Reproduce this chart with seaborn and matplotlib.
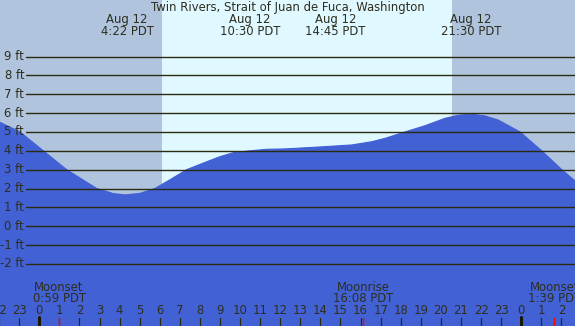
import matplotlib
matplotlib.use("Agg")
import matplotlib.pyplot as plt
import seaborn as sns
import pandas as pd

# ---- data ----
tide_hours = [-1.96, -0.96, 0.20, 1.36, 2.86, 3.69, 4.27, 5.01, 5.76, 6.55,
              7.34, 8.34, 9.0, 9.66, 10.5, 11.32, 12.24, 13.9, 15.56, 16.55,
              17.22, 18.21, 19.21, 20.2, 20.9, 21.53, 22.2, 22.86, 23.94,
              25.02, 26.02, 26.68]
tide_ft = [5.51, 5.00, 4.00, 3.00, 2.00, 1.73, 1.66, 1.74, 2.00, 2.49,
           3.00, 3.42, 3.69, 3.90, 4.00, 4.08, 4.10, 4.20, 4.31, 4.48,
           4.66, 5.00, 5.33, 5.72, 5.89, 5.94, 5.85, 5.63, 5.00,
           4.00, 3.00, 2.40]

event_times = [4 + 22 / 60, 10.5, 14.75, 21.5]
event_dates = ["Aug 12", "Aug 12", "Aug 12", "Aug 12"]
event_labels = ["4:22 PDT", "10:30 PDT", "14:45 PDT", "21:30 PDT"]

moon_times = [59 / 60, 16 + 8 / 60, 24 + 1 + 39 / 60]
moon_names = ["Moonset", "Moonrise", "Moonset"]
moon_labels = ["0:59 PDT", "16:08 PDT", "1:39 PDT"]

sunrise = 6.13
sunset = 20.57

ft_levels = [-2, -1, 0, 1, 2, 3, 4, 5, 6, 7, 8, 9]
hour_ticks = list(range(-2, 27))
hour_labels = [str(h % 24) for h in hour_ticks]

title = "Twin Rivers, Strait of Juan de Fuca, Washington"

# ---- style ----
NIGHT = "#B0C4DE"
DAY = "#E0F8FF"
WATER = "#4161D5"
LINE = "#2b2b10"
TEXT = "#2e2e1e"

sns.set_theme(style="white")
plt.rcParams["font.family"] = ["DejaVu Sans"]
FS = 8.4

W, H = 575, 326
fig = plt.figure(figsize=(W / 100, H / 100), dpi=100)
fig.patch.set_facecolor(NIGHT)
ax = fig.add_axes([0, 0, 1, 1])
ax.set_facecolor(NIGHT)

px_per_h = 20.08
h0_px = 39.3
x_lo = (0 - h0_px) / px_per_h
x_hi = (W - h0_px) / px_per_h
px_per_ft = 18.85
y0_px = 226.2
y_hi = y0_px / px_per_ft
y_lo = -(H - y0_px) / px_per_ft

# day span
ax.axvspan(sunrise, sunset, color=DAY, zorder=0, lw=0)

# water
df = pd.DataFrame({"hour": tide_hours, "ft": tide_ft})
ax.fill_between(df["hour"], df["ft"], y_lo, color=WATER, lw=0, zorder=1)
sns.lineplot(data=df, x="hour", y="ft", ax=ax, color=WATER, lw=0.8, zorder=1.5)
ax.axis("off")
ax.set_xlim(x_lo, x_hi)
ax.set_ylim(y_lo, y_hi)

# grid lines + labels
for lv in ft_levels:
    ax.axhline(lv, xmin=26 / W, xmax=1, color=LINE, lw=1.0, zorder=2)
    ax.text(24 / W, lv, f"{lv} ft", transform=ax.get_yaxis_transform(),
            ha="right", va="center", fontsize=FS, color=TEXT, zorder=3)

xt = ax.get_xaxis_transform()
ax.text(0.5, 1 - 7.5 / H, title, transform=ax.transAxes, ha="center",
        va="center", fontsize=FS, color=TEXT)
for t, d, l in zip(event_times, event_dates, event_labels):
    ax.text(t, 1 - 19.5 / H, d, transform=xt, ha="center", va="center",
            fontsize=FS, color=TEXT)
    ax.text(t, 1 - 31.5 / H, l, transform=xt, ha="center", va="center",
            fontsize=FS, color=TEXT)

for t, n, l in zip(moon_times, moon_names, moon_labels):
    ax.text(t, 1 - 287.5 / H, n, transform=xt, ha="center", va="center",
            fontsize=FS, color=TEXT, zorder=3)
    ax.text(t, 1 - 299 / H, l, transform=xt, ha="center", va="center",
            fontsize=FS, color=TEXT, zorder=3)
    ax.axvline(t, ymin=0, ymax=8 / H, color="red", lw=1.0, zorder=4)

for h, lbl in zip(hour_ticks, hour_labels):
    ax.text(h, 1 - 311 / H, lbl, transform=xt, ha="center", va="center",
            fontsize=FS, color=TEXT, zorder=3)
    if h % 24 == 0:
        ax.axvline(h, ymin=0, ymax=9 / H, color="#1a1a00", lw=2.2, zorder=3)
    else:
        ax.axvline(h, ymin=0, ymax=8 / H, color=LINE, lw=0.9, zorder=3)

fig.savefig("out.png", dpi=100, facecolor=NIGHT)
